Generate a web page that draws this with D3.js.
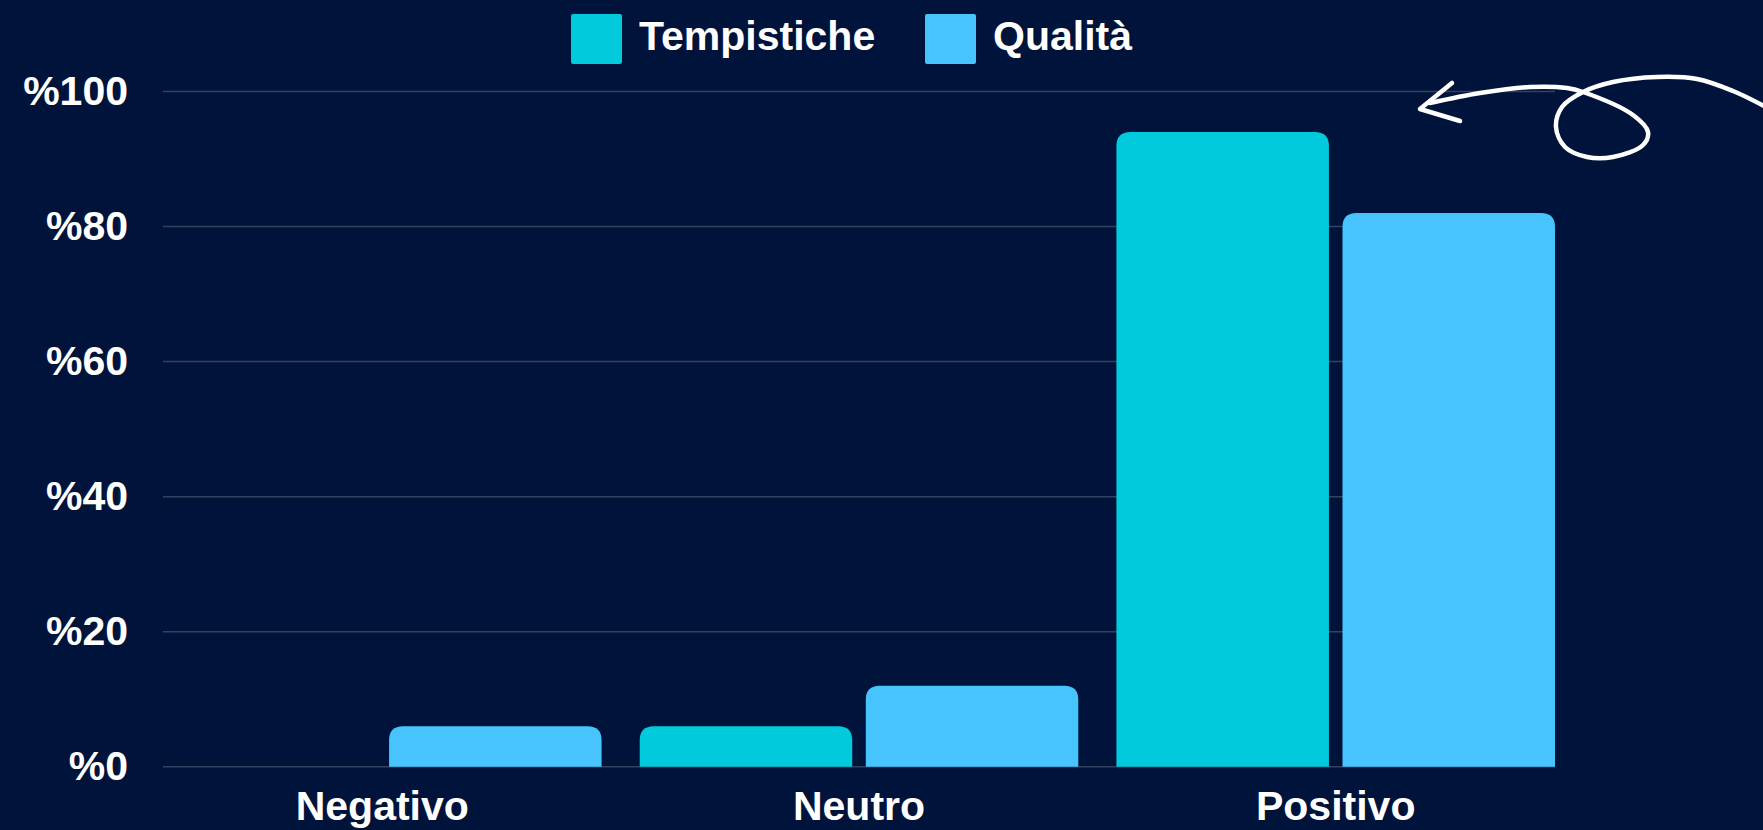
<!DOCTYPE html>
<html>
<head>
<meta charset="utf-8">
<title>Tempistiche e Qualità</title>
<script src="https://d3js.org/d3.v7.min.js"></script>
<style>
body { margin: 0; background: #00133a; }
text { font-family: "Liberation Sans", Arial, sans-serif; font-weight: bold; fill: #fff; }
.grid line { stroke: #ffffff; stroke-opacity: 0.2; stroke-width: 1.5px; }
.arrow { fill: none; stroke: #fff; stroke-width: 4.5px; stroke-linecap: round; stroke-linejoin: round; }
</style>
</head>
<body>
<script>
// data
var categories = ["Negativo", "Neutro", "Positivo"];
var series = ["Tempistiche", "Qualità"];
var tempistiche = [0, 6, 94];
var qualita = [6, 12, 82];
var yTicks = [0, 20, 40, 60, 80, 100];
var colors = ["#00cadc", "#47c3fe"];

// hand-drawn arrow annotation (pixel points)
var arrowShaft = [[1430,103],[1480,93],[1530,87],[1567,88],[1583,92],[1633,115],[1648,132],[1643,145],
  [1613,157],[1587,157],[1565,147],[1556,127],[1562,107],[1583,92],[1613,82],[1657,77],[1697,79],[1733,91],[1766,107]];
var arrowHead = [[1452,83],[1420,109],[1460,121]];

var width = 1763, height = 830;
var svg = d3.select("body").append("svg")
    .attr("width", width)
    .attr("height", height);

var y = d3.scaleLinear().domain([0, 100]).range([766.8, 91.4]);
var x0 = d3.scaleBand().domain(categories).range([163, 1555]).paddingInner(0.08).paddingOuter(0);
var x1 = d3.scaleBand().domain(series).range([0, x0.bandwidth()]).paddingInner(0.06);
var color = d3.scaleOrdinal().domain(series).range(colors);

// gridlines
svg.append("g").attr("class", "grid")
  .selectAll("line")
  .data(yTicks)
  .enter().append("line")
    .attr("x1", 163).attr("x2", 1555)
    .attr("y1", function(d) { return y(d); })
    .attr("y2", function(d) { return y(d); });

// y axis labels
var yAxis = svg.append("g")
    .attr("transform", "translate(163,0)")
    .call(d3.axisLeft(y).tickValues(yTicks).tickSize(0).tickPadding(35)
      .tickFormat(function(d) { return "%" + d; }));
yAxis.select(".domain").remove();
yAxis.selectAll("text").attr("font-size", 41).attr("fill", "#fff")
    .style("font-family", "'Liberation Sans', Arial, sans-serif");

// x axis labels
var xAxis = svg.append("g")
    .attr("transform", "translate(0," + y(0) + ")")
    .call(d3.axisBottom(x0).tickSize(0).tickPadding(24));
xAxis.select(".domain").remove();
xAxis.selectAll("text").attr("font-size", 41).attr("fill", "#fff")
    .style("font-family", "'Liberation Sans', Arial, sans-serif");

// bars with rounded tops
function topRounded(x, yTop, w, yBase, r) {
  var h = yBase - yTop;
  if (h <= 0) return "";
  r = Math.min(r, h, w / 2);
  return "M" + x + "," + yBase +
    "V" + (yTop + r) +
    "Q" + x + "," + yTop + " " + (x + r) + "," + yTop +
    "H" + (x + w - r) +
    "Q" + (x + w) + "," + yTop + " " + (x + w) + "," + (yTop + r) +
    "V" + yBase + "Z";
}

var rows = categories.map(function(c, i) {
  return { cat: c, values: [
    { key: series[0], value: tempistiche[i] },
    { key: series[1], value: qualita[i] }
  ]};
});

svg.append("g").selectAll("g")
  .data(rows)
  .enter().append("g")
    .attr("transform", function(d) { return "translate(" + x0(d.cat) + ",0)"; })
  .selectAll("path")
  .data(function(d) { return d.values; })
  .enter().append("path")
    .attr("fill", function(d) { return color(d.key); })
    .attr("d", function(d) {
      return topRounded(x1(d.key), y(d.value), x1.bandwidth(), y(0), 14);
    });

// legend
var legendX = [571, 925];
var legend = svg.append("g").selectAll("g")
  .data(series)
  .enter().append("g")
    .attr("transform", function(d, i) { return "translate(" + legendX[i] + ",14)"; });
legend.append("rect")
    .attr("width", 51).attr("height", 50).attr("rx", 2)
    .attr("fill", function(d) { return color(d); });
legend.append("text")
    .attr("x", 68).attr("y", 35.5)
    .attr("font-size", 41)
    .text(function(d) { return d; });

// arrow
var line = d3.line().curve(d3.curveCatmullRom.alpha(0.5));
svg.append("path").attr("class", "arrow").attr("d", line(arrowShaft));
svg.append("path").attr("class", "arrow").attr("d", d3.line()(arrowHead));
</script>
</body>
</html>
